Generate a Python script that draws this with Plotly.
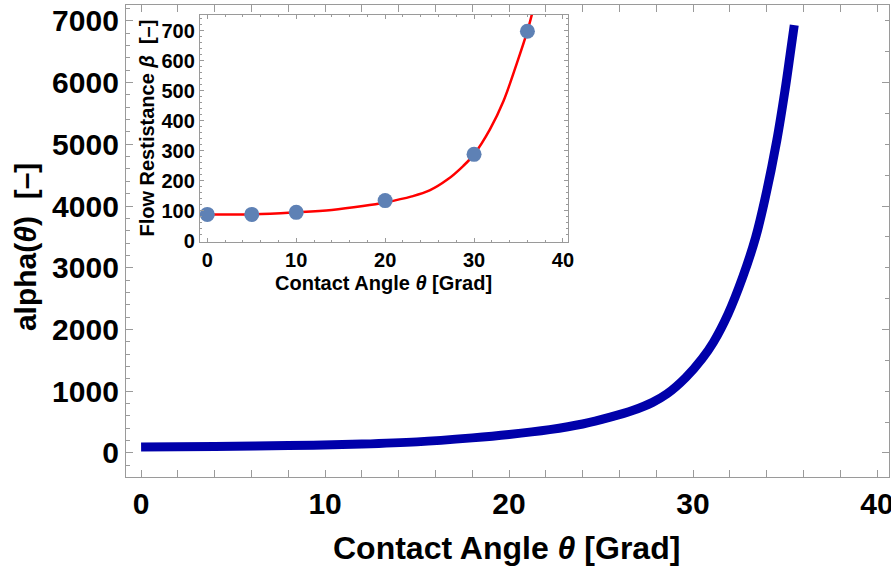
import plotly.graph_objects as go

# Main curve: alpha(theta)
theta_main = [0, 4, 8, 12, 15, 18, 20, 22.2, 24, 25.5, 26.75, 27.8, 28.6, 29.6, 30.5, 31.1, 31.9, 32.7, 33.4, 33.9, 34.55, 35.0, 35.27, 35.5]
alpha_main = [97, 106, 120, 145, 180, 245, 300, 379, 470, 580, 692, 820, 960, 1220, 1530, 1790, 2250, 2850, 3490, 4100, 5060, 5880, 6440, 6930]

# Inset: measured points and fitted curve
exp_theta = [0, 5, 10, 20, 30, 36]
exp_beta = [88, 88, 95, 134, 288, 698]
fit_theta = [0, 5, 10, 14, 17.5, 20, 23, 25, 27, 28.8, 30, 31.8, 33.3, 34.8, 36, 36.6]
fit_beta = [88, 88, 95, 103, 116, 128, 148, 168, 204, 250, 288, 372, 465, 590, 699, 765]

main_x_ticks = [0, 10, 20, 30, 40]
main_y_ticks = [0, 1000, 2000, 3000, 4000, 5000, 6000, 7000]
inset_x_ticks = [0, 10, 20, 30, 40]
inset_y_ticks = [0, 100, 200, 300, 400, 500, 600, 700]

FRAME = '#9a9a9a'
FONT = 'Liberation Sans, Arial, sans-serif'

fig = go.Figure()
fig.add_trace(go.Scatter(x=theta_main, y=alpha_main, mode='lines',
                         line=dict(color='#0000AA', width=9, shape='spline', smoothing=1.0),
                         xaxis='x', yaxis='y', showlegend=False, hoverinfo='skip'))
fig.add_trace(go.Scatter(x=fit_theta, y=fit_beta, mode='lines',
                         line=dict(color='#FF0000', width=2.5, shape='spline', smoothing=1.0),
                         xaxis='x2', yaxis='y2', showlegend=False))
fig.add_trace(go.Scatter(x=exp_theta, y=exp_beta, mode='markers',
                         marker=dict(size=15, color='#5E81B5'),
                         xaxis='x2', yaxis='y2', showlegend=False))
fig.add_trace(go.Scatter(x=[None], y=[None], xaxis='x', yaxis='y3', showlegend=False))


def axis_style(size, ticklen):
    return dict(showline=True, linecolor=FRAME, linewidth=1.3, ticks='inside', automargin=False,
                ticklen=ticklen, tickwidth=1, tickcolor=FRAME, showgrid=False, zeroline=False,
                ticklabeloverflow='allow',
                tickfont=dict(family=FONT, size=size, color='black', weight='bold'))


fig.update_layout(
    width=891, height=570,
    margin=dict(l=126, r=2, t=5, b=93),
    paper_bgcolor='white', plot_bgcolor='white',
    showlegend=False,
    xaxis=dict(domain=[0, 1], range=[-0.82, 40.65], anchor='y', tickmode='array', tickvals=main_x_ticks,
               mirror='allticks', ticklabelstandoff=0,
               minor=dict(tickmode='linear', tick0=0, dtick=2, ticklen=4, tickcolor=FRAME, ticks='inside', showgrid=False),
               **axis_style(30, 7)),
    yaxis=dict(domain=[0, 1], range=[-389, 7256], anchor='x', tickmode='array', tickvals=main_y_ticks,
               tickformat='d', mirror=True, ticklabelstandoff=0,
               minor=dict(tickmode='linear', tick0=0, dtick=200, ticklen=4, tickcolor=FRAME, ticks='inside', showgrid=False),
               **axis_style(30, 7)),
    yaxis3=dict(overlaying='y', side='right', anchor='x', range=[-389, 7256], tickmode='linear', tick0=0, dtick=2000,
                ticks='inside', ticklen=7, tickcolor=FRAME, showticklabels=False, showline=False,
                showgrid=False, zeroline=False, automargin=False,
                minor=dict(tickmode='linear', tick0=0, dtick=500, ticklen=4, tickcolor=FRAME, ticks='inside', showgrid=False)),
    xaxis2=dict(domain=[0.097, 0.5797], range=[-0.82, 40.6], anchor='y2', tickmode='array', tickvals=inset_x_ticks,
                mirror='allticks', ticklabelstandoff=0,
                minor=dict(tickmode='linear', tick0=0, dtick=2, ticklen=2, tickcolor=FRAME, ticks='inside', showgrid=False),
                **axis_style(20, 4)),
    yaxis2=dict(domain=[0.4982, 0.9788], range=[-3.3, 752], anchor='x2', tickmode='array', tickvals=inset_y_ticks,
                mirror='allticks', ticklabelstandoff=0,
                minor=dict(tickmode='linear', tick0=0, dtick=20, ticklen=2, tickcolor=FRAME, ticks='inside', showgrid=False),
                **axis_style(20, 4)),
    annotations=[
        dict(text='Contact Angle <i>θ</i> [Grad]', xref='paper', yref='paper', x=0.4993, y=-0.151,
             xanchor='center', yanchor='middle', showarrow=False,
             font=dict(family=FONT, size=32, color='black', weight='bold')),
        dict(text='alpha(<i>θ</i>)\u00a0\u00a0[–]', xref='paper', yref='paper', x=-0.1324, y=0.487,
             xanchor='center', yanchor='middle', showarrow=False, textangle=-90,
             font=dict(family=FONT, size=30, color='black', weight='bold')),
        dict(text='Contact Angle <i>θ</i> [Grad]', xref='paper', yref='paper', x=0.338, y=0.4106,
             xanchor='center', yanchor='middle', showarrow=False,
             font=dict(family=FONT, size=20, color='black', weight='bold')),
        dict(text='Flow Restistance <i>β</i>\u00a0\u00a0[–]', xref='paper', yref='paper', x=0.0275, y=0.7403,
             xanchor='center', yanchor='middle', showarrow=False, textangle=-90,
             font=dict(family=FONT, size=20, color='black', weight='bold')),
    ],
)

fig.write_html('out.html', config={'displayModeBar': False},
               post_script="document.body.style.margin='0';document.body.style.padding='0';")
